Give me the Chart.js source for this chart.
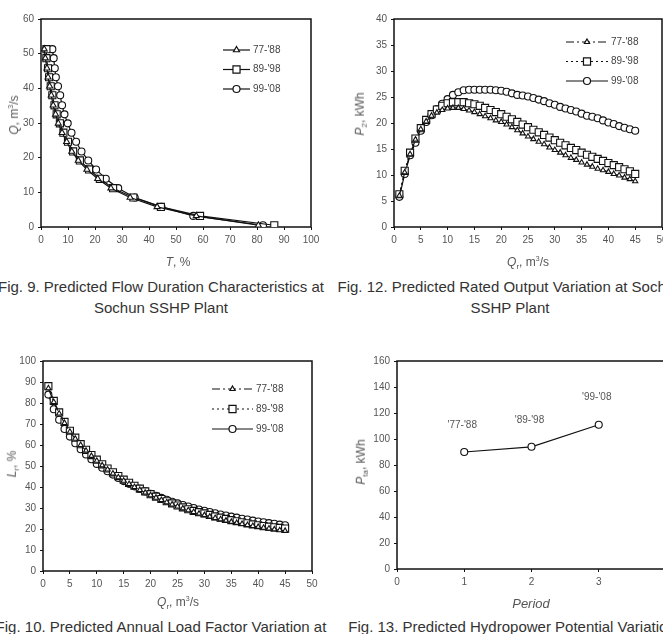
<!DOCTYPE html>
<html>
<head>
<meta charset="utf-8">
<script src="https://cdn.jsdelivr.net/npm/chart.js@4.4.1/dist/chart.umd.min.js"></script>
<style>
  body { margin: 0; background: #fff; }
  #page { position: relative; width: 663px; height: 634px; overflow: hidden; background: #fff;
          font-family: "Liberation Sans", Arial, sans-serif; color: #333; }
  #page canvas { position: absolute; }
  .t { position: absolute; white-space: nowrap; font-size: 12px; color: #555; transform: translate(-50%, -50%);
       will-change: transform; }
  .t.rot { transform: translate(-50%, -50%) rotate(-90deg); }
  .t sub { font-size: 8px; }
  .t sup { font-size: 7px; }
  .cap { position: absolute; white-space: nowrap; font-size: 15px; color: #333; transform: translateX(-50%);
         text-align: center; line-height: 21px; }
</style>
</head>
<body>
<div id="page">
  <canvas id="c9"  width="330" height="250" style="left:0;top:0"></canvas>
  <canvas id="c12" width="345" height="250" style="left:330px;top:0"></canvas>
  <canvas id="c10" width="330" height="280" style="left:0;top:320px"></canvas>
  <canvas id="c13" width="345" height="280" style="left:330px;top:320px"></canvas>

  <div class="t rot" style="left:14px;top:115px"><i>Q</i>, m<sup>3</sup>/s</div>
  <div class="t" style="left:178px;top:262px"><i>T</i>, %</div>
  <div class="t rot" style="left:361px;top:114px"><i>P</i><sub>2</sub>, kWh</div>
  <div class="t" style="left:528px;top:263px"><i>Q</i><sub>r</sub>, m<sup>3</sup>/s</div>
  <div class="t rot" style="left:13px;top:464px"><i>L</i><sub>r</sub>, %</div>
  <div class="t" style="left:178px;top:603px"><i>Q</i><sub>r</sub>, m<sup>3</sup>/s</div>
  <div class="t rot" style="left:362px;top:462px"><i>P</i><sub>ta</sub>, kWh</div>
  <div class="t" style="left:531px;top:603px;font-size:13px"><i>Period</i></div>

  <div class="cap" style="left:161px;top:276px">Fig. 9. Predicted Flow Duration Characteristics at<br>Sochun SSHP Plant</div>
  <div class="cap" style="left:510px;top:276px">Fig. 12. Predicted Rated Output Variation at Sochun<br>SSHP Plant</div>
  <div class="cap" style="left:161px;top:616px">Fig. 10. Predicted Annual Load Factor Variation at</div>
  <div class="cap" style="left:512px;top:616px">Fig. 13. Predicted Hydropower Potential Variation</div>
</div>

<script>
// Fig. 9 - flow duration (Q levels, T% per period)
const flowQ   = [51.3, 48.7, 45.8, 43.2, 40.6, 38.0, 35.1, 32.5, 29.9, 27.2, 24.6, 21.8, 19.2, 16.6, 13.9, 11.2, 8.5, 5.8, 3.2, 0.5];
const flowT77 = [1.2, 1.6, 2.2, 2.6, 3.2, 3.8, 4.5, 5.4, 6.4, 7.8, 9.5, 11.4, 13.8, 17.0, 21.0, 25.9, 33.0, 43.0, 57.5, 80.5];
const flowT89 = [2.0, 2.0, 2.6, 3.0, 3.6, 4.2, 5.0, 5.8, 7.0, 8.3, 10.0, 11.9, 14.4, 17.8, 21.8, 26.7, 34.2, 44.4, 58.9, 86.4];
const flowT99 = [4.2, 4.7, 5.1, 5.5, 6.3, 7.1, 7.8, 8.7, 9.9, 11.3, 13.0, 15.0, 17.5, 20.4, 24.0, 28.6, 34.7, 44.6, 56.4, 82.2];

// Fig. 12 / Fig. 10 - rated discharge Qr
const qr = [1, 2, 3, 4, 5, 6, 7, 8, 9, 10, 11, 12, 13, 14, 15, 16, 17, 18, 19, 20, 21, 22, 23,
            24, 25, 26, 27, 28, 29, 30, 31, 32, 33, 34, 35, 36, 37, 38, 39, 40, 41, 42, 43, 44, 45];

const p77 = [6.0, 10.5, 14.0, 16.8, 18.8, 20.3, 21.4, 22.0, 22.5, 22.8, 22.9, 22.9, 22.7, 22.4, 22.1,
             21.7, 21.3, 20.9, 20.5, 20.2, 19.7, 19.2, 18.6, 18.0, 17.4, 16.9, 16.4, 15.9, 15.3, 14.8,
             14.3, 13.8, 13.3, 12.9, 12.4, 12.0, 11.6, 11.2, 10.9, 10.6, 10.2, 9.9, 9.5, 9.2, 8.8];
const p89 = [6.3, 10.8, 14.3, 17.0, 19.0, 20.6, 21.7, 22.6, 23.3, 23.8, 24.0, 24.0, 24.0, 23.8, 23.6,
             23.3, 22.9, 22.5, 22.1, 21.7, 21.2, 20.7, 20.2, 19.7, 19.2, 18.7, 18.2, 17.7, 17.2, 16.7,
             16.2, 15.7, 15.2, 14.8, 14.3, 13.9, 13.5, 13.1, 12.7, 12.3, 11.9, 11.5, 11.1, 10.7, 10.2];
const p99 = [5.8, 10.2, 13.8, 16.2, 18.5, 20.2, 21.5, 22.7, 23.7, 24.6, 25.4, 25.9, 26.3, 26.4, 26.4,
             26.4, 26.4, 26.4, 26.3, 26.2, 26.0, 25.7, 25.4, 25.3, 25.1, 24.8, 24.5, 24.2, 23.8, 23.5,
             23.1, 22.8, 22.5, 22.2, 21.8, 21.4, 21.2, 20.9, 20.5, 20.1, 19.8, 19.4, 19.1, 18.8, 18.5];

const lf77 = [87.0, 80.5, 75.0, 70.5, 66.3, 63.0, 60.0, 57.3, 54.8, 52.5, 50.3, 48.3, 46.4, 44.6, 43.0,
              41.4, 40.0, 38.6, 37.3, 36.1, 34.9, 33.8, 32.7, 31.7, 30.7, 29.8, 28.9, 28.1, 27.3, 26.6,
              25.9, 25.2, 24.6, 24.0, 23.4, 22.9, 22.4, 21.9, 21.4, 21.0, 20.6, 20.2, 19.8, 19.4, 19.1];
const lf89 = [88.0, 81.0, 75.5, 71.0, 66.8, 63.5, 60.4, 57.7, 55.2, 53.0, 50.8, 48.8, 47.0, 45.2, 43.5,
              42.0, 40.6, 39.2, 37.9, 36.6, 35.4, 34.3, 33.2, 32.2, 31.2, 30.3, 29.4, 28.6, 28.0, 27.4,
              26.7, 26.0, 25.4, 24.8, 24.2, 23.7, 23.2, 22.7, 22.2, 21.8, 21.4, 21.1, 20.8, 20.5, 20.2];
const lf99 = [84.0, 77.0, 72.0, 67.6, 64.0, 60.8, 58.0, 55.5, 53.2, 51.0, 49.2, 47.5, 45.9, 44.3, 42.8,
              41.5, 40.3, 39.1, 37.9, 36.8, 35.8, 34.8, 33.9, 33.0, 32.2, 31.4, 30.7, 30.0, 29.3, 28.7,
              28.1, 27.5, 26.9, 26.4, 25.9, 25.4, 24.9, 24.5, 24.0, 23.6, 23.2, 22.8, 22.5, 22.1, 21.8];

// Fig. 13 - potential per period
const periods = [1, 2, 3];
const periodNames = ["'77-'88", "'89-'98", "'99-'08"];
const potential = [90, 94, 111];

const seriesNames = ["77-'88", "89-'98", "99-'08"];
const ink = "#111";
const tickGray = "#555";
const font = { family: "'Liberation Sans', Arial, sans-serif", size: 10 };

const framePlugin = {
  id: "frame",
  beforeDatasetsDraw(chart) {
    const a = chart.chartArea, ctx = chart.ctx;
    ctx.save();
    ctx.strokeStyle = ink;
    ctx.lineWidth = 1.5;
    ctx.strokeRect(a.left, a.top, a.right - a.left, a.bottom - a.top);
    ctx.restore();
  }
};

const innerLegend = {
  id: "innerLegend",
  afterDraw(chart, args, opts) {
    if (!opts || opts.x == null) return;
    const ctx = chart.ctx;
    chart.data.datasets.forEach((ds, i) => {
      const y = opts.y + i * opts.dy;
      ctx.save();
      ctx.strokeStyle = ds.borderColor;
      ctx.lineWidth = ds.borderWidth;
      ctx.setLineDash(ds.borderDash || []);
      ctx.beginPath();
      ctx.moveTo(opts.x, y);
      ctx.lineTo(opts.x + opts.len, y);
      ctx.stroke();
      ctx.setLineDash([]);
      ctx.fillStyle = "#fff";
      ctx.strokeStyle = ink;
      Chart.helpers.drawPoint(ctx, { pointStyle: ds.pointStyle, radius: ds.pointRadius, borderWidth: ds.pointBorderWidth, rotation: 0 },
        opts.x + opts.len / 2, y);
      ctx.fillStyle = "#444";
      ctx.font = "10px 'Liberation Sans', Arial, sans-serif";
      ctx.textBaseline = "middle";
      ctx.fillText(ds.label, opts.x + opts.len + 3, y);
      ctx.restore();
    });
  }
};

const pointLabels = {
  id: "pointLabels",
  afterDatasetsDraw(chart, args, opts) {
    if (!opts || !opts.texts) return;
    const ctx = chart.ctx;
    ctx.save();
    ctx.fillStyle = "#555";
    ctx.font = "10px 'Liberation Sans', Arial, sans-serif";
    ctx.textAlign = "center";
    ctx.textBaseline = "middle";
    chart.getDatasetMeta(0).data.forEach((pt, i) => {
      ctx.fillText(opts.texts[i], pt.x - 2, pt.y - 27);
    });
    ctx.restore();
  }
};

function series(label, xs, ys, style, dash, radius) {
  return {
    label,
    data: xs.map((x, i) => ({ x, y: ys[i] })),
    borderColor: ink,
    borderWidth: 1.2,
    borderDash: dash,
    backgroundColor: "#fff",
    pointStyle: style,
    pointRadius: radius,
    pointBorderWidth: 1.1,
    pointBackgroundColor: "#fff",
    pointBorderColor: ink,
    tension: 0
  };
}

function axis(min, max, step, fit) {
  return {
    type: "linear",
    min, max,
    ticks: { stepSize: step, color: tickGray, font, padding: 4 },
    grid: { display: true, drawOnChartArea: false, drawTicks: true, tickLength: 3, color: ink },
    border: { display: false },
    afterFit: fit
  };
}

function makeOptions(c) {
  return {
    responsive: false,
    animation: false,
    layout: { padding: c.pad },
    plugins: {
      legend: { display: false },
      tooltip: { enabled: false },
      innerLegend: c.legend || {},
      pointLabels: c.labels || {}
    },
    scales: {
      x: axis(c.x[0], c.x[1], c.x[2], (s) => { s.height = c.xH; }),
      y: axis(c.y[0], c.y[1], c.y[2], (s) => { s.width = c.yW; })
    }
  };
}

Chart.register(framePlugin, innerLegend, pointLabels);

// Fig. 9
new Chart(document.getElementById("c9"), {
  type: "line",
  data: { datasets: [
    series(seriesNames[0], flowT77, flowQ, "triangle", [], 3.5),
    series(seriesNames[1], flowT89, flowQ, "rect", [], 5),
    series(seriesNames[2], flowT99, flowQ, "circle", [], 3.5)
  ]},
  options: makeOptions({ x: [0, 100, 10], y: [0, 60, 10], xH: 23, yW: 41,
    pad: { top: 19, right: 19, left: 0, bottom: 0 },
    legend: { x: 223, y: 50, dy: 19.5, len: 27 } })
});

// Fig. 12
new Chart(document.getElementById("c12"), {
  type: "line",
  data: { datasets: [
    series(seriesNames[0], qr, p77, "triangle", [8, 3, 2, 3], 3),
    series(seriesNames[1], qr, p89, "rect", [2, 3], 5),
    series(seriesNames[2], qr, p99, "circle", [], 3.5)
  ]},
  options: makeOptions({ x: [0, 50, 5], y: [0, 40, 5], xH: 23, yW: 64,
    pad: { top: 19, right: 13, left: 0, bottom: 0 },
    legend: { x: 236, y: 42, dy: 19.5, len: 42 } })
});

// Fig. 10
new Chart(document.getElementById("c10"), {
  type: "line",
  data: { datasets: [
    series(seriesNames[0], qr, lf77, "triangle", [8, 3, 2, 3], 3),
    series(seriesNames[1], qr, lf89, "rect", [2, 3], 5),
    series(seriesNames[2], qr, lf99, "circle", [], 3.5)
  ]},
  options: makeOptions({ x: [0, 50, 5], y: [0, 100, 10], xH: 29, yW: 43,
    pad: { top: 41, right: 18, left: 0, bottom: 0 },
    legend: { x: 212, y: 69, dy: 20, len: 41 } })
});

// Fig. 13
new Chart(document.getElementById("c13"), {
  type: "line",
  data: { datasets: [
    series("Pta", periods, potential, "circle", [], 3.5)
  ]},
  options: makeOptions({ x: [0, 4, 1], y: [0, 160, 20], xH: 31, yW: 67,
    pad: { top: 41, right: 9, left: 0, bottom: 0 },
    labels: { texts: periodNames } })
});
</script>
</body>
</html>
